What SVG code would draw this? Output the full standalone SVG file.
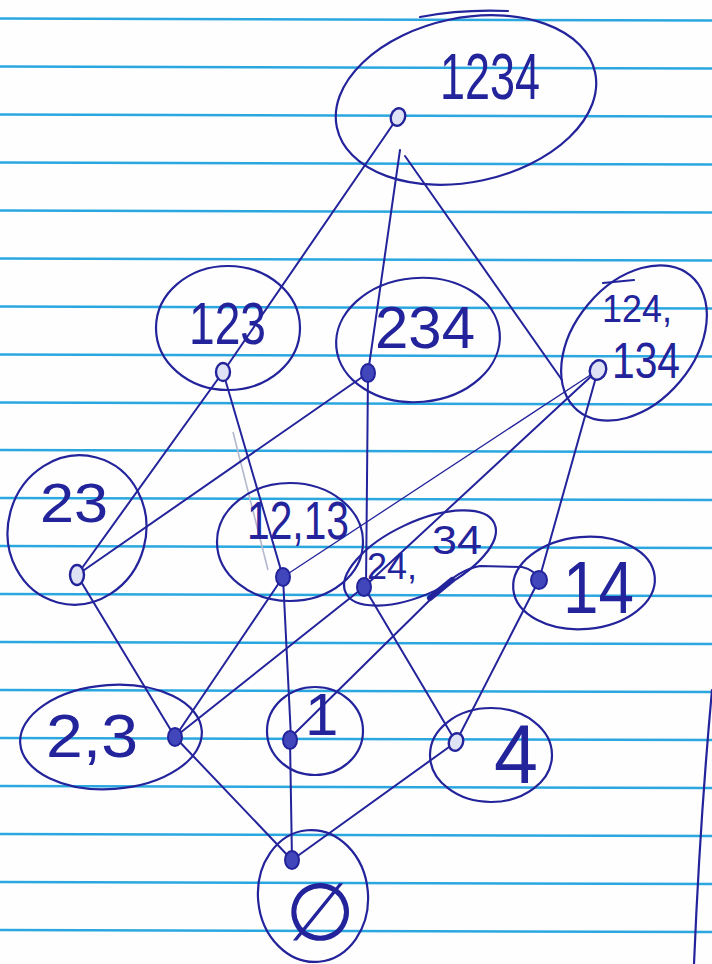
<svg xmlns="http://www.w3.org/2000/svg" width="712" height="964" viewBox="0 0 712 964">
<defs>
<style>
.rule{fill:none;stroke:#2aa7df;stroke-width:2.4;}
.pen{fill:none;stroke:#23239b;stroke-width:2.2;stroke-linecap:round;stroke-linejoin:round;}
.edge{fill:none;stroke:#23239b;stroke-width:2;stroke-linecap:round;stroke-linejoin:round;}
.thin{stroke-width:1.3;}
.faint{fill:none;stroke:#b4b8cc;stroke-width:1.6;}
.lbl{font-family:"Liberation Sans",Arial,sans-serif;fill:#23239b;}
.dot{fill:#4146bb;stroke:#23239b;stroke-width:2;}
.odot{fill:#dfe2f4;stroke:#23239b;stroke-width:2.4;}
</style>
</defs>
<rect width="712" height="964" fill="#fefefe"/>
<g id="paper">
<path class="rule" d="M0,18.5 L712,20.5 M0,66.5 L712,68.5 M0,114.5 L712,116.5 M0,162.5 L712,164.5 M0,210.5 L712,212.5 M0,258.5 L712,260.5 M0,306.5 L712,308.5 M0,354.5 L712,356.5 M0,402.5 L712,404.5 M0,450 L712,452 M0,498 L712,500 M0,546 L712,548 M0,594 L712,596 M0,642 L712,644 M0,690 L712,692 M0,738 L712,740 M0,786 L712,788 M0,834 L712,836 M0,882 L712,884 M0,930 L712,932"/>
<path class="pen" d="M712,690 Q700,820 694,964"/>
</g>
<g id="connectors">
<path class="edge" d="M398,117 L223,372"/>
<path class="edge" d="M400,150 L368,373"/>
<path class="edge" d="M405,156 L562,380"/>
<path class="edge" d="M223,372 L77,575"/>
<path class="edge" d="M223,372 L283,577"/>
<path class="faint" d="M233,432 L268,570"/>
<path class="edge" d="M368,373 L77,575"/>
<path class="edge" d="M368,373 L366,587"/>
<path class="edge thin" d="M598,370 L283,577"/>
<path class="edge" d="M598,370 L364,587"/>
<path class="edge" d="M598,370 L539,580"/>
<path class="edge" d="M77,575 L175,737"/>
<path class="edge" d="M283,577 L175,737"/>
<path class="edge" d="M283,577 L291,738"/>
<path class="edge" d="M290,738 L440,590 Q458,570 480,566 L522,567 Q535,570 539,580"/>
<path class="edge" d="M430,598 L452,580" style="stroke-width:6"/>
<path class="edge" d="M364,587 L175,737"/>
<path class="edge" d="M364,587 L456,742"/>
<path class="edge" d="M539,580 L456,742"/>
<path class="edge" d="M175,737 L292,860"/>
<path class="edge" d="M290,740 L292,860"/>
<path class="edge" d="M456,742 L292,860"/>
</g>
<g id="n1234">
<ellipse class="pen" cx="466" cy="100" rx="132" ry="82" transform="rotate(-12 466 100)"/>
<path class="pen" d="M420,17 Q462,9 508,11"/>
<text class="lbl" x="440" y="99" font-size="64" textLength="100" lengthAdjust="spacingAndGlyphs">1234</text>
<ellipse class="odot" cx="398" cy="117" rx="7" ry="9" transform="rotate(20 398 117)"/>
</g>
<g id="n123">
<ellipse class="pen" cx="228" cy="328" rx="72" ry="62"/>
<text class="lbl" x="189" y="344" font-size="60" textLength="77" lengthAdjust="spacingAndGlyphs">123</text>
<ellipse class="odot" cx="223" cy="372" rx="7" ry="9"/>
</g>
<g id="n234">
<ellipse class="pen" cx="418" cy="340" rx="82" ry="62" transform="rotate(-5 418 340)"/>
<text class="lbl" x="375" y="348" font-size="60" textLength="100" lengthAdjust="spacingAndGlyphs">234</text>
<ellipse class="dot" cx="368" cy="373" rx="7" ry="9"/>
</g>
<g id="n124">
<ellipse class="pen" cx="634" cy="343" rx="88" ry="60" transform="rotate(-50 634 343)"/>
<path class="pen" d="M603,283 L634,280"/>
<text class="lbl" x="602" y="322" font-size="38" textLength="70" lengthAdjust="spacingAndGlyphs">124,</text>
<text class="lbl" x="612" y="378" font-size="50" textLength="68" lengthAdjust="spacingAndGlyphs">134</text>
<ellipse class="odot" cx="598" cy="370" rx="8" ry="10" transform="rotate(20 598 370)"/>
</g>
<g id="n23">
<ellipse class="pen" cx="77" cy="530" rx="69" ry="75" transform="rotate(15 77 530)"/>
<text class="lbl" x="40" y="522" font-size="56" textLength="68" lengthAdjust="spacingAndGlyphs">23</text>
<ellipse class="odot" cx="77" cy="575" rx="7" ry="10"/>
</g>
<g id="n1213">
<ellipse class="pen" cx="290" cy="542" rx="73" ry="59"/>
<text class="lbl" x="247" y="539" font-size="54" textLength="102" lengthAdjust="spacingAndGlyphs">12,13</text>
<ellipse class="dot" cx="283" cy="577" rx="7" ry="9"/>
</g>
<g id="n2434">
<ellipse class="pen" cx="420" cy="558" rx="82" ry="36" transform="rotate(-25 420 558)"/>
<text class="lbl" x="367" y="579" font-size="36">24,</text>
<text class="lbl" x="432" y="554" font-size="40" textLength="50" lengthAdjust="spacingAndGlyphs">34</text>
<ellipse class="dot" cx="364" cy="587" rx="7" ry="9"/>
</g>
<g id="n14">
<ellipse class="pen" cx="584" cy="583" rx="71" ry="46" transform="rotate(-5 584 583)"/>
<text class="lbl" x="563" y="613" font-size="74" textLength="71" lengthAdjust="spacingAndGlyphs">14</text>
<ellipse class="dot" cx="539" cy="580" rx="8" ry="9"/>
</g>
<g id="n2c3">
<ellipse class="pen" cx="111" cy="737" rx="91" ry="52" transform="rotate(-4 111 737)"/>
<text class="lbl" x="46" y="757" font-size="62" textLength="92" lengthAdjust="spacingAndGlyphs">2,3</text>
<ellipse class="dot" cx="175" cy="737" rx="7" ry="9"/>
</g>
<g id="n1">
<ellipse class="pen" cx="315" cy="731" rx="48" ry="44"/>
<text class="lbl" x="305" y="735" font-size="60">1</text>
<ellipse class="dot" cx="290" cy="740" rx="7" ry="9"/>
</g>
<g id="n4">
<ellipse class="pen" cx="491" cy="755" rx="61" ry="47"/>
<text class="lbl" x="494" y="783" font-size="84" textLength="44" lengthAdjust="spacingAndGlyphs">4</text>
<ellipse class="odot" cx="456" cy="742" rx="7" ry="9" transform="rotate(20 456 742)"/>
</g>
<g id="nempty">
<ellipse class="pen" cx="313" cy="896" rx="55" ry="66" transform="rotate(-5 313 896)"/>
<text x="320" y="940" font-size="80" text-anchor="middle" style="font-family:'DejaVu Sans',sans-serif;fill:#23239b">∅</text>
<ellipse class="dot" cx="292" cy="860" rx="7" ry="9"/>
</g>
</svg>
